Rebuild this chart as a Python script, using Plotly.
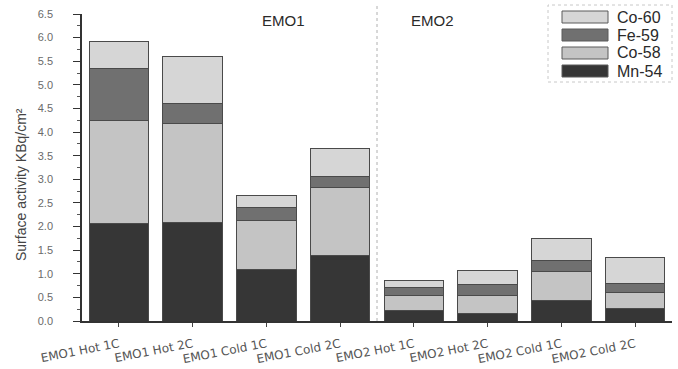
import plotly.graph_objects as go

# Samples and nuclide surface activities (kBq/cm²), stacked bottom-up
categories = ["EMO1 Hot 1C", "EMO1 Hot 2C", "EMO1 Cold 1C", "EMO1 Cold 2C",
              "EMO2 Hot 1C", "EMO2 Hot 2C", "EMO2 Cold 1C", "EMO2 Cold 2C"]
mn54 = [2.07, 2.08, 1.08, 1.38, 0.22, 0.16, 0.43, 0.27]
co58 = [2.18, 2.10, 1.05, 1.44, 0.31, 0.37, 0.61, 0.33]
fe59 = [1.10, 0.42, 0.27, 0.23, 0.18, 0.25, 0.24, 0.20]
co60 = [0.57, 1.00, 0.26, 0.60, 0.14, 0.29, 0.46, 0.55]

series_names = ["Mn-54", "Co-58", "Fe-59", "Co-60"]
series_values = [mn54, co58, fe59, co60]
series_colors = ["#363636", "#c4c4c4", "#707070", "#d6d6d6"]

group_labels = ["EMO1", "EMO2"]
y_ticks = [0.0, 0.5, 1.0, 1.5, 2.0, 2.5, 3.0, 3.5, 4.0, 4.5, 5.0, 5.5, 6.0, 6.5]
y_title = "Surface activity KBq/cm²"

FONT = "Liberation Sans, Arial, sans-serif"
W, H = 678, 369
ML, MR, MT, MB = 82, 6, 14, 48
PW, PH = W - ML - MR, H - MT - MB


def px_to_paper(xp, yp):
    return (xp - ML) / PW, (H - MB - yp) / PH


fig = go.Figure()
for name, vals, col in zip(series_names, series_values, series_colors):
    fig.add_trace(go.Bar(
        x=categories, y=vals, name=name, width=0.81,
        marker=dict(color=col, line=dict(color="#4a4a4a", width=1)),
        showlegend=False,
    ))

# Dotted separator between the two groups
fig.add_shape(type="line", xref="x", yref="paper", x0=3.5, x1=3.5, y0=0, y1=1.03,
              line=dict(color="#b0b0b0", width=1, dash="dot"))

# Group titles
for lab, xp in zip(group_labels, [283, 432]):
    px, py = px_to_paper(xp, 20)
    fig.add_annotation(text=lab, xref="paper", yref="paper", x=px, y=py,
                       xanchor="center", yanchor="middle", showarrow=False,
                       font=dict(family=FONT, size=15, color="#2a2a2a"))

# Legend box with wide swatches (top entry = top of stack)
bx0, by0 = px_to_paper(548, 5)
bx1, by1 = px_to_paper(672, 82)
fig.add_shape(type="rect", xref="paper", yref="paper", x0=bx0, x1=bx1, y0=by1, y1=by0,
              line=dict(color="#c8c8c8", width=1, dash="dot"), fillcolor="white")
entry_y = [71, 53, 35, 17]
for name, col, ey in zip(series_names, series_colors, entry_y):
    sx0, sy0 = px_to_paper(562, ey - 6)
    sx1, sy1 = px_to_paper(608, ey + 6)
    fig.add_shape(type="rect", xref="paper", yref="paper", x0=sx0, x1=sx1, y0=sy1, y1=sy0,
                  line=dict(color="#5a5a5a", width=1), fillcolor=col)
    tx, ty = px_to_paper(615, ey)
    fig.add_annotation(text=name, xref="paper", yref="paper", x=tx, y=ty,
                       xanchor="left", yanchor="middle", showarrow=False,
                       font=dict(family=FONT, size=16, color="#2a2a2a"))

# Vertical axis title
ax, ay = px_to_paper(21, 185)
fig.add_annotation(text=y_title, xref="paper", yref="paper", x=ax, y=ay,
                   xanchor="center", yanchor="middle", textangle=-90, showarrow=False,
                   font=dict(family=FONT, size=14, color="#444444"))

fig.update_layout(
    width=W, height=H,
    margin=dict(l=ML, r=MR, t=MT, b=MB, autoexpand=False),
    barmode="stack",
    plot_bgcolor="white", paper_bgcolor="white",
    font=dict(family=FONT, color="#444444"),
    showlegend=False,
)
fig.update_yaxes(
    range=[0, 6.5], tickvals=y_ticks, ticktext=[f"{v:.1f}" for v in y_ticks],
    showgrid=False, zeroline=False, automargin=False,
    showline=True, linecolor="#333333", linewidth=1.5,
    ticks="outside", ticklen=7, tickcolor="#333333",
    ticklabelstandoff=18,
    minor=dict(ticks="outside", ticklen=3, dtick=0.25, tickcolor="#555555"),
    tickfont=dict(family=FONT, size=11, color="#6a6a6a"),
)
fig.update_xaxes(
    range=[-0.5, 7.5], showgrid=False, zeroline=False, automargin=False,
    showline=True, linecolor="#333333", linewidth=1.5,
    ticks="outside", ticklen=4, tickcolor="#444444",
    tickangle=-11, ticklabelstandoff=6,
    tickfont=dict(family="DejaVu Sans, sans-serif", size=12, color="#555555"),
)

fig.write_html("out.html")
